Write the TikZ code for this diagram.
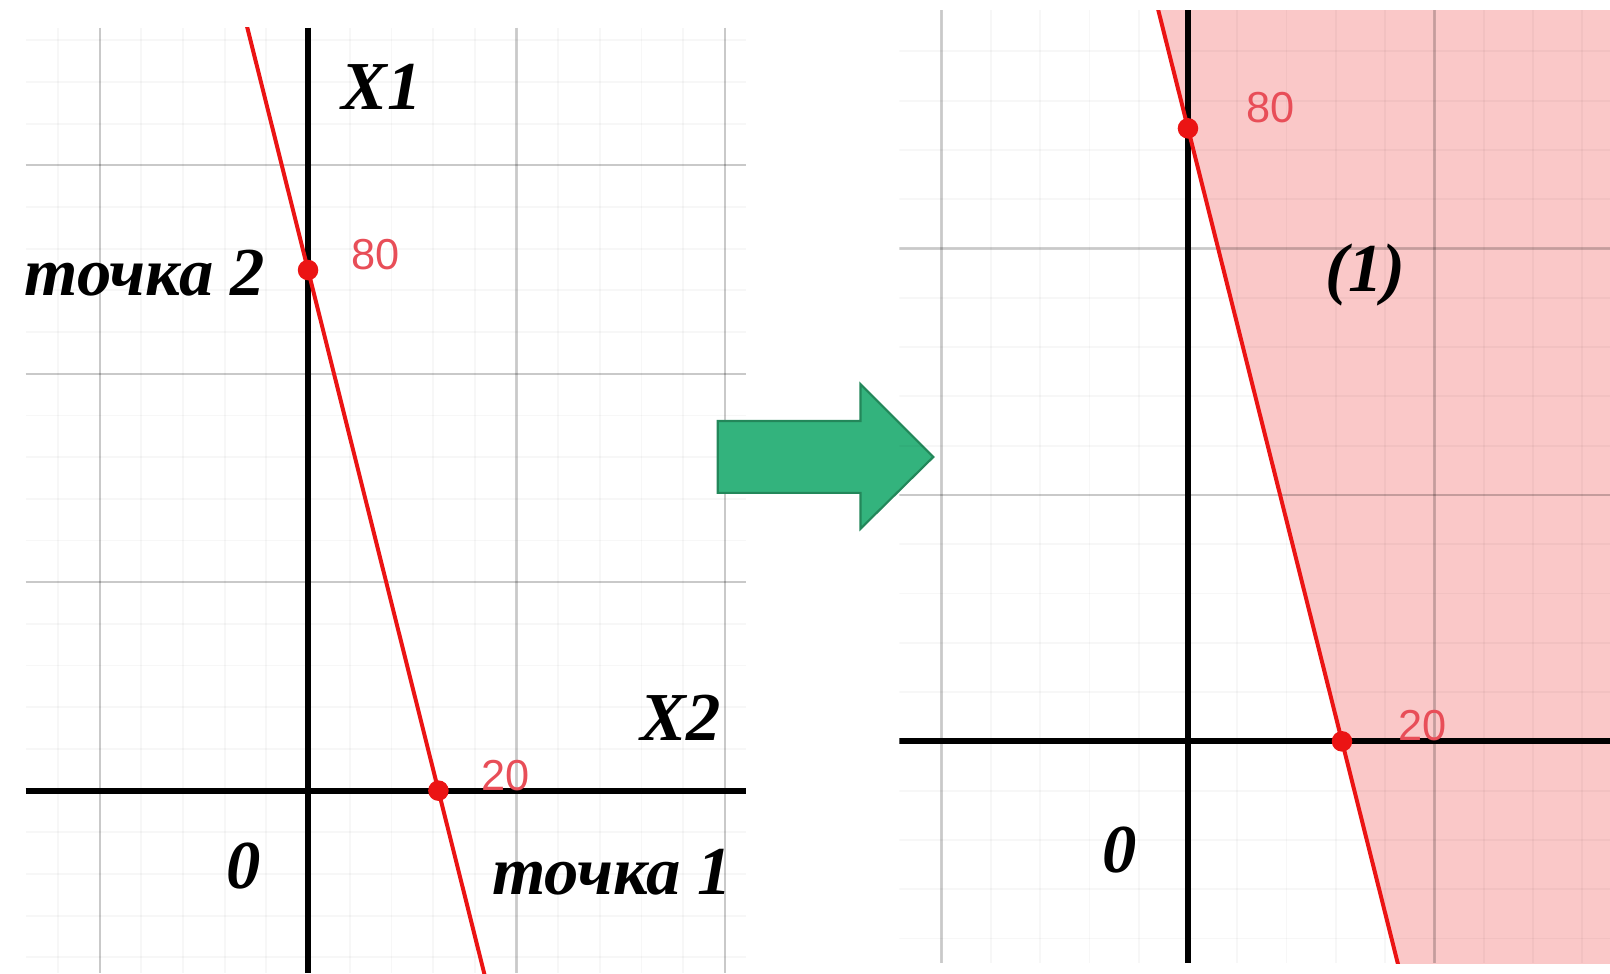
\documentclass[tikz,border=0pt]{standalone}
\usepackage{fontspec}
\setmainfont{Liberation Serif}
\newfontfamily\numfont{Liberation Sans}
\usepackage{tikz}
\usetikzlibrary{calc}
\definecolor{plotred}{RGB}{235,20,20}
\definecolor{numred}{RGB}{232,78,88}
\definecolor{regionpink}{RGB}{250,200,200}
\definecolor{arrowgreen}{RGB}{51,179,125}
\definecolor{arrowedge}{RGB}{35,135,90}
\tikzset{
  %% ---- grid and axes ----
  minorgrid/.style = {draw=black, opacity=0.03, line width=0.5pt},
  majorgrid/.style = {draw=black, opacity=0.19, line width=0.6pt},
  axisline/.style  = {draw=black, line width=1.6pt},
  %% ---- lines and points ----
  redline/.style   = {draw=plotred, line width=1.1pt},
  pt/.style        = {circle, fill=plotred, inner sep=0pt, minimum size=0.2cm},
  %% ---- labels ----
  lbl/.style       = {font=\fontsize{19}{23}\selectfont\bfseries\itshape, inner sep=0pt},
  numlbl/.style    = {font=\numfont\fontsize{12}{14}\selectfont, text=numred, inner sep=0pt},
  bigarrow/.style  = {fill=arrowgreen, draw=arrowedge, line width=0.6pt},
}
\begin{document}
\begin{tikzpicture}[x=0.01cm, y=-0.01cm]
\useasboundingbox (0,0) rectangle (1568,948);
%% ---- left panel ----
\begin{scope}
\clip (25,27) rectangle (727,948);
\foreach \k in {-7,...,11}
  \draw[minorgrid] ({300+40.6*\k},27) -- ({300+40.6*\k},948);
\foreach \k in {-19,...,5}
  \draw[minorgrid] (25,{770+40.6*\k}) -- (727,{770+40.6*\k});
\foreach \k in {-1,...,2}
  \draw[majorgrid] ({300+203*\k},27) -- ({300+203*\k},948);
\foreach \k in {-3,...,-1}
  \draw[majorgrid] (25,{770+203*\k}) -- (727,{770+203*\k});
\draw[axisline] (25,770) -- (727,770);
\draw[axisline] (300,27) -- (300,948);
\node[pt] (lp2) at (300,263) {};
\node[pt] (lp1) at (427,770) {};
\draw[redline] ($(lp2.center)!-0.5!(lp1.center)$) -- ($(lp1.center)!-0.4!(lp2.center)$);
\end{scope}
\node[lbl]    (lx1)  at (372,85)  {X1};
\node[lbl]    (lx2)  at (663,699) {X2};
\node[lbl]    (lzero) at (237,843) {0};
\node[lbl]    (lt2)  at (141,266) {точка 2};
\node[lbl]    (lt1)  at (596,849) {точка 1};
\node[numlbl] (l80)  at (366,248) {80};
\node[numlbl] (l20)  at (492,755) {20};
%% ---- arrow ----
\filldraw[bigarrow] (699,410) -- (838,410) -- (838,374) -- (909,445)
  -- (838,515) -- (838,480) -- (699,480) -- cycle;
%% ---- right panel ----
\begin{scope}
\clip (876,10) rectangle (1568,938);
\coordinate (rq2) at (1157,125);
\coordinate (rq1) at (1307,722);
\coordinate (ra) at ($(rq2)!-0.3!(rq1)$);
\coordinate (rb) at ($(rq1)!-0.5!(rq2)$);
\coordinate (redge) at (1600,0);
\fill[regionpink] (ra) -- (rb) -- (rb -| redge) -- (ra -| redge) -- cycle;
\foreach \k in {-6,...,9}
  \draw[minorgrid] ({1157+48*\k},10) -- ({1157+48*\k},938);
\foreach \k in {-15,...,5}
  \draw[minorgrid] (876,{722+48*\k}) -- (1568,{722+48*\k});
\foreach \k in {-1,1}
  \draw[majorgrid] ({1157+240*\k},10) -- ({1157+240*\k},938);
\foreach \k in {-3,...,-1}
  \draw[majorgrid] (876,{722+240*\k}) -- (1568,{722+240*\k});
\draw[axisline] (876,722) -- (1568,722);
\draw[axisline] (1157,10) -- (1157,938);
\node[pt] (rp2) at (rq2) {};
\node[pt] (rp1) at (rq1) {};
\draw[redline] (ra) -- (rb);
\end{scope}
\node[lbl]    (rone)  at (1330,268) {(1)};
\node[lbl]    (rzero) at (1090,828) {0};
\node[numlbl] (r80)   at (1237,105) {80};
\node[numlbl] (r20)   at (1385,707) {20};
\end{tikzpicture}
\end{document}
